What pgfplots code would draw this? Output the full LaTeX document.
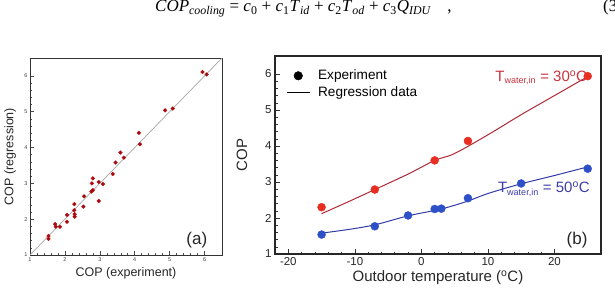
\documentclass[border=0pt]{standalone}
\usepackage{pgfplots}
\pgfplotsset{compat=1.18}
\usepackage{fontspec}
\setmainfont{Liberation Sans}
\newfontfamily\serif{Liberation Serif}
\definecolor{ptred}{RGB}{180,20,30}
\definecolor{mkred}{RGB}{232,45,35}
\definecolor{mkblue}{RGB}{45,80,200}
\definecolor{lnred}{RGB}{175,40,55}
\definecolor{lnblue}{RGB}{50,60,165}
\definecolor{txred}{RGB}{200,50,60}
\definecolor{txblue}{RGB}{60,60,170}
\begin{document}
\begin{tikzpicture}
\useasboundingbox (0,0) rectangle (615pt,292pt);
% top equation (cut off at the top edge)
\node[anchor=base west, inner sep=0pt, font=\serif\fontsize{17}{17}\selectfont] at (155pt,280pt)
 {\textit{COP}\textsubscript{\textit{cooling}} = \textit{c}\textsubscript{0} + \textit{c}\textsubscript{1}\textit{T}\textsubscript{\textit{id}} + \textit{c}\textsubscript{2}\textit{T}\textsubscript{\textit{od}} + \textit{c}\textsubscript{3}\textit{Q}\textsubscript{\textit{IDU}}\hspace{16pt},};
\node[anchor=base west, inner sep=0pt, font=\serif\fontsize{17}{17}\selectfont] at (603pt,280pt) {(3};

% panel (a)
\begin{axis}[at={(30pt,37pt)}, anchor=south west, scale only axis,
  width=192pt, height=197pt,
  xmin=1, xmax=6.5, ymin=1, ymax=6.5,
  xtick={1,2,3,4,5,6}, ytick={1,2,3,4,5,6},
  minor tick num=4,
  xtick pos=left, ytick pos=left, tick align=inside,
  major tick length=4pt, minor tick length=2pt,
  axis line style={line width=0.9pt, black!80},
  every tick/.style={black!70, line width=0.5pt},
  /pgf/number format/assume math mode=true,
  tick label style={font=\fontsize{5.5}{6}\selectfont, text=black!75},
  xticklabel style={yshift=1pt}, yticklabel style={xshift=1pt},
  xlabel={COP (experiment)}, ylabel={COP (regression)},
  label style={font=\fontsize{12.5}{14}\selectfont, text=black!85},
  xlabel style={at={(axis description cs:0.5,-0.091)}, anchor=center},
  ylabel style={at={(axis description cs:-0.104,0.5)}, anchor=center},
  clip=false]
\addplot[black!35, line width=0.7pt] coordinates {(1,1) (6.5,6.5)};
\addplot[only marks, mark=*, mark size=1.9pt, mark options={fill=ptred!85!black, draw=red!80!black, line width=0.3pt}] coordinates {
(1.53,1.53) (1.53,1.45) (1.72,1.86) (1.74,1.79) (1.86,1.79)
(2.06,1.93) (2.06,2.12) (2.27,2.42) (2.27,2.25) (2.28,2.14)
(2.28,2.07) (2.53,2.35) (2.55,2.64) (2.76,2.77) (2.80,2.81)
(2.77,3.00) (2.80,3.14) (2.97,3.04) (3.09,2.98) (2.97,2.51)
(3.37,3.26) (3.45,3.58) (3.59,3.86) (3.69,3.72) (4.12,4.41)
(4.15,4.09) (4.87,5.04) (5.09,5.09) (5.94,6.11) (6.06,6.04)};
\node[font=\fontsize{17}{17}\selectfont, text=black!85] at (axis cs:5.78,1.42) {(a)};
\end{axis}

% panel (b)
\begin{axis}[at={(275pt,38pt)}, anchor=south west, scale only axis,
  width=326pt, height=198pt,
  xmin=-22, xmax=27, ymin=1, ymax=6.5,
  xtick={-20,-10,0,10,20}, ytick={1,2,3,4,5,6},
  minor x tick num=4, minor y tick num=4,
  xtick pos=left, ytick pos=left, tick align=inside,
  major tick length=5pt, minor tick length=2.5pt,
  axis line style={line width=1.1pt, black!85},
  every tick/.style={black!80, line width=0.6pt},
  /pgf/number format/assume math mode=true,
  tick label style={font=\fontsize{11.5}{12}\selectfont, text=black!85},
  xlabel={Outdoor temperature (\textsuperscript{o}C)}, ylabel={COP},
  label style={font=\fontsize{15}{16}\selectfont, text=black!85},
  xlabel style={at={(axis description cs:0.5,-0.121)}, anchor=center},
  ylabel style={at={(axis description cs:-0.101,0.5)}, anchor=center},
  legend style={at={(axis description cs:0.025,0.95)}, anchor=north west, draw=none, fill=none,
    font=\fontsize{13.6}{15}\selectfont, row sep=1.5pt,
    /tikz/every odd column/.style={column sep=6pt}},
  legend cell align=left,
  clip=false]
\addlegendimage{legend image code/.code={\fill[black] (11.5pt,0pt) circle (4.3pt);}}
\addlegendentry{Experiment}
\addlegendimage{legend image code/.code={\draw[black, line width=0.8pt] (0pt,0pt) -- (23pt,0pt);}}
\addlegendentry{Regression data}
\addplot[lnred, line width=1pt, smooth, tension=0.5, forget plot] coordinates {
(-15,2.12) (-11,2.45) (-7,2.79) (-2,3.22) (2,3.60) (4.5,3.75) (7,3.99) (11,4.42) (15,4.87) (20,5.40) (25,5.93)};
\addplot[lnblue, line width=1pt, smooth, tension=0.5, forget plot] coordinates {
(-15,1.58) (-11,1.68) (-7,1.81) (-2,2.06) (2,2.21) (4,2.30) (7,2.47) (10,2.68) (15,2.95) (20,3.18) (25,3.42)};
\addplot[only marks, mark=*, mark size=4pt, mark options={fill=mkred, draw=mkred}, forget plot] coordinates {
(-15,2.30) (-7,2.79) (2,3.60) (7,4.14) (25,5.94)};
\addplot[only marks, mark=*, mark size=4pt, mark options={fill=mkblue, draw=mkblue}, forget plot] coordinates {
(-15,1.54) (-7,1.77) (-2,2.07) (2,2.25) (3,2.26) (7,2.55) (15,2.96) (25,3.37)};
\node[anchor=west, inner sep=0pt, text=txred, font=\fontsize{15}{16}\selectfont] at (axis cs:11.1,5.90)
  {T\textsubscript{\fontsize{9}{9}\selectfont water,in} = 30\textsuperscript{o}C};
\node[anchor=west, inner sep=0pt, text=txblue, font=\fontsize{15}{16}\selectfont] at (axis cs:11.5,2.80)
  {T\textsubscript{\fontsize{9}{9}\selectfont water,in} = 50\textsuperscript{o}C};
\node[font=\fontsize{17}{17}\selectfont, text=black!85] at (axis cs:23.4,1.39) {(b)};
\end{axis}
\end{tikzpicture}
\end{document}
